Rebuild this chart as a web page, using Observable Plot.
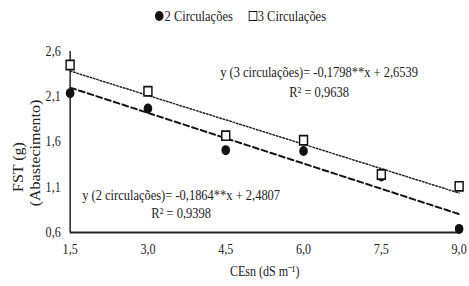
<!DOCTYPE html>
<html>
<head>
<meta charset="utf-8">
<script src="https://cdn.jsdelivr.net/npm/d3@7"></script>
<script src="https://cdn.jsdelivr.net/npm/@observablehq/plot@0.6"></script>
<style>
  html, body { margin: 0; padding: 0; background: #fff; }
  body { width: 469px; height: 286px; overflow: hidden; font-family: "Liberation Serif", "Times New Roman", serif; }
  #wrap { width: 545px; transform: scaleX(0.8606); transform-origin: 0 0; }
  #legend { height: 32px; display: flex; justify-content: center; align-items: center; gap: 18px; font-size: 14.5px; color: #222; padding-left: 14px; box-sizing: border-box; }
  #legend span { display: inline-flex; align-items: center; }
  .dot { width: 10px; height: 10px; border-radius: 50%; background: #111; display: inline-block; margin-right: 1px; }
  .sq { width: 8px; height: 8px; border: 1.7px solid #111; background: #fff; display: inline-block; margin-right: 1px; }
</style>
</head>
<body>
<div id="wrap">
<div id="legend"><span><i class="dot"></i>2 Circulações</span><span><i class="sq"></i>3 Circulações</span></div>
<div id="chart"></div>
</div>
<script>
const cesn = [1.5, 3.0, 4.5, 6.0, 7.5, 9.0];
const circ2 = [2.14, 1.97, 1.51, 1.50, 1.22, 0.64];
const circ3 = [2.45, 2.16, 1.67, 1.62, 1.24, 1.11];
const xTicks = [1.5, 3.0, 4.5, 6.0, 7.5, 9.0];
const yTicks = [0.6, 1.1, 1.6, 2.1, 2.6];
const coef2 = {a: -0.1864, b: 2.4807};
const coef3 = {a: -0.1798, b: 2.6539};
const eq2 = ["y (2 circulações)= -0,1864**x + 2,4807", "R² = 0,9398"];
const eq3 = ["y (3 circulações)= -0,1798**x + 2,6539", "R² = 0,9638"];
const yLabel = ["FST (g)", "(Abastecimento)"];

const pts2 = cesn.map((x, i) => ({x, y: circ2[i]}));
const pts3 = cesn.map((x, i) => ({x, y: circ3[i]}));
const xEnds = [cesn[0], cesn[cesn.length - 1]];
const fit2 = xEnds.map(x => ({x, y: coef2.a * x + coef2.b}));
const fit3 = xEnds.map(x => ({x, y: coef3.a * x + coef3.b}));
const fmt = d => d3.format(".1f")(d).replace(".", ",");

const chart = Plot.plot({
  width: 545,
  height: 254,
  marginTop: 19,
  marginBottom: 54,
  marginLeft: 81,
  marginRight: 12,
  style: {fontFamily: "Liberation Serif, Times New Roman, serif", fontSize: "14px", color: "#222", background: "#fff"},
  x: {domain: [1.5, 9.0], ticks: xTicks, tickFormat: fmt, tickSize: 0, tickPadding: 12,
      label: "CEsn (dS m⁻¹)", labelAnchor: "center", labelArrow: "none", labelOffset: 43},
  y: {domain: [0.6, 2.6], ticks: yTicks, tickFormat: fmt, tickSize: 0, tickPadding: 11, label: null},
  marks: [
    Plot.ruleX([1.5], {y1: 0.6, y2: 2.6, stroke: "#111", strokeWidth: 1.6}),
    Plot.ruleY([0.6], {stroke: "#222", strokeWidth: 2.2}),
    Plot.line(fit2, {x: "x", y: "y", stroke: "#111", strokeWidth: 2, strokeDasharray: "7,3.5"}),
    Plot.line(fit3, {x: "x", y: "y", stroke: "#222", strokeWidth: 1.5, strokeDasharray: "2,2"}),
    Plot.dot(pts2, {x: "x", y: "y", r: 5, fill: "#111", stroke: "none"}),
    Plot.dot(pts3, {x: "x", y: "y", symbol: "square", r: 5.2, fill: "#fff", stroke: "#111", strokeWidth: 1.7}),
    Plot.text([eq3[0]], {x: 6.30, y: 2.37, text: d => d, fontSize: 14.5, fill: "#222"}),
    Plot.text([eq3[1]], {x: 6.30, y: 2.15, text: d => d, fontSize: 14.5, fill: "#222"}),
    Plot.text([eq2[0]], {x: 3.64, y: 1.01, text: d => d, fontSize: 14.5, fill: "#222"}),
    Plot.text([eq2[1]], {x: 3.64, y: 0.81, text: d => d, fontSize: 14.5, fill: "#222"}),
    Plot.text([yLabel[0]], {frameAnchor: "left", textAnchor: "middle", text: d => d, rotate: -90, dx: -60, dy: 25, fontSize: 16, fill: "#222"}),
    Plot.text([yLabel[1]], {frameAnchor: "left", textAnchor: "middle", text: d => d, rotate: -90, dx: -40, dy: 11, fontSize: 16, fill: "#222"})
  ]
});
document.getElementById("chart").appendChild(chart);
</script>
</body>
</html>
